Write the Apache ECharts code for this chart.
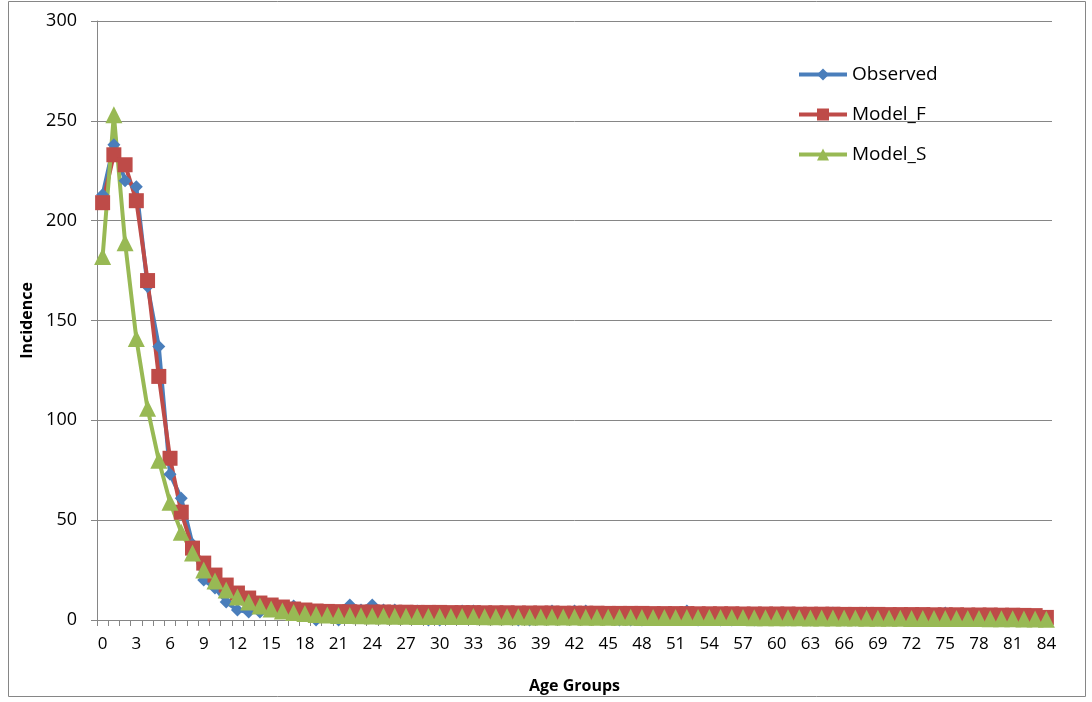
<!DOCTYPE html>
<html>
<head>
<meta charset="utf-8">
<script src="https://cdn.jsdelivr.net/npm/echarts@6/dist/echarts.min.js"></script>
<style>html,body{margin:0;padding:0;background:#fff;}#c{width:1092px;height:702px;}</style>
</head>
<body>
<div id="c"></div>
<script>
const categories = [0,1,2,3,4,5,6,7,8,9,10,11,12,13,14,15,16,17,18,19,20,21,22,23,24,25,26,27,28,29,30,31,32,33,34,35,36,37,38,39,40,41,42,43,44,45,46,47,48,49,50,51,52,53,54,55,56,57,58,59,60,61,62,63,64,65,66,67,68,69,70,71,72,73,74,75,76,77,78,79,80,81,82,83,84].map(String);
const observed = [213,238,220,217,167,137,73,61,38,20,16,9,5,4,4,5,6,7,3,0,2,0,7.5,5,7.5,5,5,2,4.5,0,0,2,4.5,4.5,2,1,2,0,0,2,4.5,2,4.5,4.5,2,1,0,0,0,1,2,1,4.5,0,2,0,0,1,0,2,1,0,2,0,2,3.5,0,0,3.5,0,0,1,2,1,2,3.5,2,1,2,1,0,0,0,0,0];
const modelF = [209,233,228,210,170,122,81,54,36,28.5,22.5,17.5,13.5,11,8.5,7.5,6.5,5.5,5,4.5,4.3,4.2,4.1,4,4,4,3.9,3.9,3.8,3.8,3.8,3.7,3.7,3.7,3.6,3.6,3.6,3.5,3.5,3.5,3.5,3.4,3.4,3.4,3.4,3.3,3.3,3.3,3.3,3.2,3.2,3.2,3.2,3.1,3.1,3.1,3.1,3,3,3,3,3,2.9,2.9,2.9,2.9,2.8,2.8,2.8,2.8,2.7,2.7,2.7,2.7,2.6,2.6,2.6,2.5,2.5,2.5,2.4,2.4,2.3,2.2,1.3];
const modelS = [182,253,189,141,106,80,59,44,33.5,25,19.5,15,11.5,9,7,5.5,4.5,3.8,3.2,2.8,2.5,2.3,2.2,2.1,2,2,1.9,1.9,1.8,1.8,1.8,1.7,1.7,1.7,1.6,1.6,1.6,1.6,1.5,1.5,1.5,1.5,1.5,1.4,1.4,1.4,1.4,1.4,1.3,1.3,1.3,1.3,1.3,1.2,1.2,1.2,1.2,1.2,1.1,1.1,1.1,1.1,1.1,1,1,1,1,1,0.9,0.9,0.9,0.9,0.8,0.8,0.8,0.8,0.7,0.7,0.7,0.6,0.6,0.6,0.5,0.5,0.4];
const yTicks = {min: 0, max: 300, step: 50};
const seriesNames = ['Observed', 'Model_F', 'Model_S'];

const FONT = "'Open Sans', 'Liberation Sans', sans-serif";
const GRAY = '#868686';
const chart = echarts.init(document.getElementById('c'), null, {renderer: 'canvas'});
function mk(name, data, color, symbol, size) {
  return {
    name, type: 'line', data, symbol, symbolSize: size, showSymbol: true, showAllSymbol: true,
    lineStyle: {color, width: 4}, itemStyle: {color},
    emphasis: {disabled: true}, animation: false
  };
}
chart.setOption({
  animation: false,
  textStyle: {fontFamily: FONT},
  graphic: [{type: 'rect', shape: {x: 8.5, y: 1.5, width: 1077, height: 695}, style: {fill: 'none', stroke: GRAY, lineWidth: 1}, silent: true}],
  grid: {left: 97, right: 40, top: 21, bottom: 82, containLabel: false},
  legend: {
    orient: 'vertical', left: 792, top: 60, itemWidth: 48, itemHeight: 15, itemGap: 21,
    lineStyle: {width: 4},
    textStyle: {fontSize: 19, color: '#000', fontFamily: FONT},
    data: seriesNames.map(n => ({name: n}))
  },
  xAxis: {
    type: 'category', data: categories, boundaryGap: true,
    name: 'Age Groups', nameLocation: 'middle', nameGap: 58,
    nameTextStyle: {fontSize: 16, fontWeight: 'bold', color: '#000', fontFamily: FONT},
    axisLine: {lineStyle: {color: GRAY, width: 1}},
    axisTick: {show: true, interval: 0, length: 6, lineStyle: {color: GRAY}},
    axisLabel: {interval: 2, fontSize: 17, color: '#000', margin: 16, fontFamily: FONT},
    splitLine: {show: false}
  },
  yAxis: {
    type: 'value', min: yTicks.min, max: yTicks.max, interval: yTicks.step,
    name: 'Incidence', nameLocation: 'middle', nameGap: 60, nameRotate: 90,
    nameTextStyle: {fontSize: 16, fontWeight: 'bold', color: '#000', fontFamily: FONT},
    axisLine: {show: true, lineStyle: {color: GRAY, width: 1}},
    axisTick: {show: true, length: 6, lineStyle: {color: GRAY}},
    axisLabel: {fontSize: 18, color: '#000', margin: 20, fontFamily: FONT},
    splitLine: {show: true, lineStyle: {color: GRAY, width: 1}}
  },
  series: [
    mk(seriesNames[0], observed, '#4A7EBB', 'diamond', 13),
    mk(seriesNames[1], modelF, '#BE4B48', 'rect', 15),
    mk(seriesNames[2], modelS, '#98B954', 'triangle', 17)
  ]
});
</script>
</body>
</html>
